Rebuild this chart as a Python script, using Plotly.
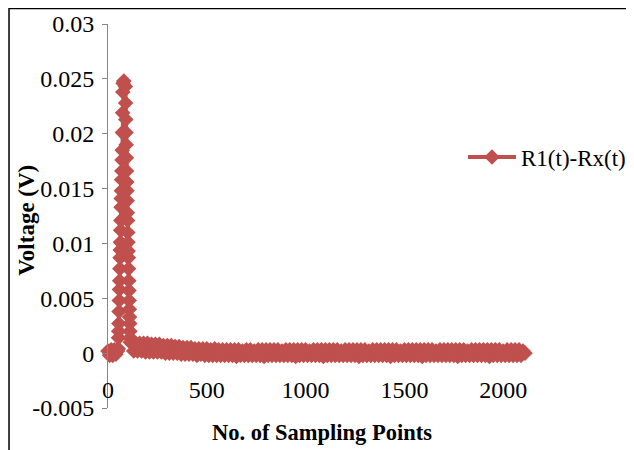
import plotly.graph_objects as go

# ---- data ----
pre_x = [0, 8, 16, 24, 32, 40, 48]
pre_y = [0.0002, -0.0002, 0.0003, -0.0002, 0.0003, -0.0001, 0.0002]

spike_x = [52, 53, 54, 55, 56, 57, 58, 59, 60, 61, 62, 63, 64, 65, 66, 67, 68, 69, 70, 71,
           72, 73, 74, 75, 76, 80,
           88, 89, 90, 91, 92, 93, 94, 95, 96, 97, 98, 99, 100, 101, 102, 103, 104, 105, 106,
           107, 108, 109, 110, 111, 112, 113]
spike_y = [0.0004, 0.0014, 0.0020, 0.0027, 0.0038, 0.0048, 0.0058, 0.0066, 0.0077, 0.0087,
           0.0094, 0.0101, 0.0112, 0.0121, 0.0133, 0.0141, 0.0148, 0.0158, 0.0166, 0.0176,
           0.0185, 0.0201, 0.0219, 0.0238, 0.0246, 0.0248,
           0.0243, 0.0228, 0.0213, 0.0201, 0.0190, 0.0178, 0.0166, 0.0156, 0.0148, 0.0139,
           0.0128, 0.0121, 0.0110, 0.0101, 0.0093, 0.0087, 0.0077, 0.0066, 0.0057, 0.0048,
           0.0040, 0.0033, 0.0027, 0.0020, 0.0014, 0.0010]

tail_x = list(range(120, 2111, 10))
tail_y = [
    0.0009, 0.0002, 0.0009, 0.0002, 0.0009, 0.0002, 0.0009, 0.0001, 0.0009, 0.0001, 0.0008, 0.0001,
    0.0008, 0.0001, 0.0008, 0.0001, 0.0007, 0.0000, 0.0007, 0.0000, 0.0007, 0.0000, 0.0006, 0.0000,
    0.0006, -0.0001, 0.0005, -0.0001, 0.0005, -0.0001, 0.0005, -0.0001, 0.0004, -0.0002, 0.0004, -0.0001,
    0.0004, -0.0002, 0.0004, -0.0002, 0.0003, -0.0002, 0.0004, -0.0002, 0.0003, -0.0002, 0.0003, -0.0002,
    0.0003, -0.0002, 0.0003, -0.0002, 0.0003, -0.0003, 0.0003, -0.0002, 0.0002, -0.0002, 0.0003, -0.0002,
    0.0003, -0.0002, 0.0002, -0.0002, 0.0003, -0.0002, 0.0003, -0.0003, 0.0003, -0.0002, 0.0003, -0.0002,
    0.0003, -0.0002, 0.0003, -0.0002, 0.0002, -0.0002, 0.0003, -0.0002, 0.0003, -0.0002, 0.0003, -0.0003,
    0.0003, -0.0002, 0.0003, -0.0002, 0.0003, -0.0002, 0.0002, -0.0002, 0.0003, -0.0002, 0.0003, -0.0002,
    0.0003, -0.0003, 0.0003, -0.0002, 0.0003, -0.0002, 0.0003, -0.0002, 0.0003, -0.0002, 0.0002, -0.0002,
    0.0003, -0.0002, 0.0003, -0.0002, 0.0003, -0.0002, 0.0003, -0.0003, 0.0003, -0.0002, 0.0003, -0.0002,
    0.0002, -0.0002, 0.0003, -0.0002, 0.0003, -0.0002, 0.0003, -0.0002, 0.0003, -0.0002, 0.0003, -0.0003,
    0.0003, -0.0002, 0.0003, -0.0002, 0.0002, -0.0002, 0.0003, -0.0002, 0.0003, -0.0002, 0.0003, -0.0002,
    0.0003, -0.0002, 0.0003, -0.0003, 0.0003, -0.0002, 0.0003, -0.0002, 0.0003, -0.0002, 0.0002, -0.0002,
    0.0003, -0.0002, 0.0003, -0.0002, 0.0003, -0.0002, 0.0003, -0.0002, 0.0003, -0.0003, 0.0003, -0.0002,
    0.0003, -0.0002, 0.0002, -0.0002, 0.0003, -0.0002, 0.0003, -0.0002, 0.0003, -0.0002, 0.0003, -0.0002,
    0.0003, -0.0003, 0.0003, -0.0002, 0.0003, -0.0002, 0.0003, -0.0002, 0.0002, -0.0002, 0.0003, -0.0002,
    0.0003, -0.0002, 0.0003, -0.0002, 0.0003, -0.0002, 0.0002, 0.0000,
]

x_vals = pre_x + spike_x + tail_x
y_vals = pre_y + spike_y + tail_y

series_name = "R1(t)-Rx(t)"
y_tickvals = [-0.005, 0, 0.005, 0.01, 0.015, 0.02, 0.025, 0.03]
y_ticktext = ["-0.005", "0", "0.005", "0.01", "0.015", "0.02", "0.025", "0.03"]
x_tickvals = [0, 500, 1000, 1500, 2000]
x_ticktext = ["0", "500", "1000", "1500", "2000"]

# ---- figure (page body adds an 8px offset; figure coords = screen - 8) ----
W, H = 626, 442
L, R_px, T, B_px = 99.5, 527.6, 16, 399.7
pw, ph = R_px - L, B_px - T

def fx(px):
    return (px - L) / pw

def fy(py):
    return (B_px - py) / ph

FONT = "Liberation Serif"
RED = "#C0504D"

fig = go.Figure()
fig.add_trace(go.Scatter(
    x=x_vals, y=y_vals, name=series_name, mode="lines+markers",
    line=dict(color=RED, width=4),
    marker=dict(symbol="diamond", size=12, color=RED),
    cliponaxis=False,
))

fig.update_layout(
    width=W, height=H,
    margin=dict(l=L, r=W - R_px, t=T, b=H - B_px, pad=0, autoexpand=False),
    paper_bgcolor="white", plot_bgcolor="white",
    font=dict(family=FONT, size=24, color="black"),
    showlegend=True,
    legend=dict(xref="container", yref="container", x=455 / W, y=1 - 149 / H,
                xanchor="left", yanchor="middle",
                font=dict(family=FONT, size=23, color="black"),
                bgcolor="rgba(0,0,0,0)", itemwidth=48),
    xaxis=dict(range=[0, 2166], tickvals=x_tickvals, ticktext=x_ticktext,
               showgrid=False, zeroline=False, showline=False, ticks="",
               anchor="free", position=fy(365), automargin=False,
               title=dict(text="<b>No. of Sampling Points</b>", standoff=21,
                          font=dict(family=FONT, size=22.5, color="black"))),
    yaxis=dict(range=[-0.005, 0.03], tickvals=y_tickvals, ticktext=y_ticktext,
               showgrid=False, zeroline=False, showline=True, linecolor="#868686",
               linewidth=1, ticks="outside", ticklen=5, tickcolor="#868686",
               ticklabelstandoff=3, automargin=False),
    annotations=[dict(text="<b>Voltage (V)</b>", textangle=-90, xref="paper", yref="paper",
                      x=fx(18), y=fy(212), xanchor="center", yanchor="middle", showarrow=False,
                      font=dict(family=FONT, size=23, color="black"))],
    shapes=[dict(type="rect", xref="paper", yref="paper",
                 x0=fx(0.5), x1=fx(700), y0=fy(0.5), y1=fy(520),
                 line=dict(color="black", width=1.5), fillcolor="rgba(0,0,0,0)", layer="below")],
)

fig.write_html("out.html")
